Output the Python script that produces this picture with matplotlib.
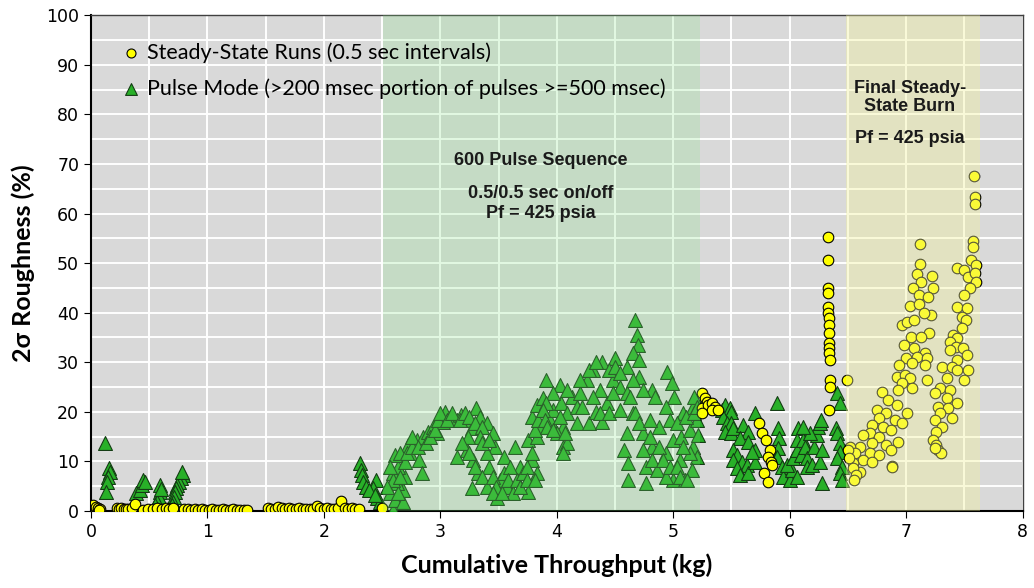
import matplotlib.pyplot as plt
import matplotlib.ticker as ticker

# steady-state runs (yellow circles)
ss_x = [0.00, 0.02, 0.04, 0.06, 0.08, 0.07, 0.22, 0.24, 0.26, 0.28, 0.30, 0.32, 0.35, 0.38, 0.45, 0.49,
        0.53, 0.57, 0.61, 0.64, 0.67, 0.70,
        0.80, 0.83, 0.86, 0.89, 0.92, 0.95, 0.98, 1.01, 1.04, 1.07, 1.10, 1.13, 1.16, 1.19, 1.22, 1.25, 1.28,
        1.31, 1.34,
        1.52, 1.55, 1.58, 1.61, 1.64, 1.67, 1.70, 1.73, 1.76, 1.79, 1.82, 1.85, 1.88, 1.91, 1.94, 1.97, 2.00,
        2.03, 2.06, 2.09, 2.12, 2.15, 2.18, 2.21, 2.24, 2.27, 2.30, 2.50,
        5.25, 5.27, 5.29, 5.25, 5.30, 5.33, 5.36, 5.33, 5.25, 5.38,
        5.74, 5.76, 5.80, 5.83, 5.81, 5.84, 5.85, 5.78, 5.81,
        6.33, 6.33, 6.33, 6.33, 6.33, 6.33, 6.34, 6.34, 6.34, 6.34, 6.34, 6.34, 6.35, 6.35, 6.35, 6.34, 6.49,
        7.58, 7.59, 7.59, 7.57, 7.57, 7.12, 7.12, 7.09, 7.22, 7.13, 7.06, 7.23, 7.11, 7.19, 7.03, 7.11, 7.21,
        7.15, 6.96, 7.01, 7.07, 7.20, 7.04, 7.13, 6.98, 7.07, 7.16, 7.00, 7.09, 7.18, 6.94, 7.05, 7.16, 6.92,
        6.99, 7.03, 7.18, 6.96, 7.05, 6.79, 6.93, 6.84, 6.92, 7.01, 6.75, 6.83, 6.77, 6.90, 6.96, 6.71, 6.80,
        6.87, 6.69, 6.77, 6.93, 6.63, 6.71, 6.83, 6.87, 6.60, 6.69, 6.77, 6.52, 6.56, 6.63, 6.71, 6.88, 6.54,
        6.60, 6.50, 6.51, 6.54, 6.57, 6.55, 6.88,
        7.44, 7.50, 7.56, 7.60, 7.53, 7.59, 7.60, 7.55, 7.50, 7.44, 7.52, 7.48, 7.51, 7.48, 7.40, 7.44, 7.38,
        7.43, 7.49, 7.38, 7.52, 7.44, 7.31, 7.39, 7.44, 7.53, 7.35, 7.50, 7.29, 7.38, 7.25, 7.35, 7.44, 7.27,
        7.36, 7.29, 7.25, 7.39, 7.31, 7.26, 7.23, 7.26, 7.27, 7.30, 7.25]
ss_y = [1.0, 1.2, 0.9, 0.6, 0.3, 0.2, 0.6, 0.4, 0.5, 0.3, 0.4, 0.3, 0.7, 1.5, 0.2, 0.4,
        0.3, 0.5, 0.4, 0.6, 0.3, 0.5,
        0.4, 0.3, 0.2, 0.3, 0.2, 0.3, 0.2, 0.2, 0.3, 0.2, 0.2, 0.3, 0.2, 0.2, 0.3, 0.2, 0.2,
        0.2, 0.2,
        0.5, 0.4, 0.3, 0.9, 0.6, 0.4, 0.5, 0.3, 0.4, 0.5, 0.3, 0.4, 0.3, 0.4, 1.0, 0.6, 0.3,
        0.5, 0.4, 0.3, 0.5, 2.0, 0.6, 0.4, 0.5, 0.3, 0.4, 0.5,
        23.8, 22.8, 22.0, 20.8, 21.4, 21.8, 21.0, 20.4, 19.8, 20.4,
        17.7, 15.7, 14.3, 12.3, 10.9, 9.9, 9.3, 7.7, 5.8,
        55.2, 50.6, 45.0, 44.0, 41.2, 39.9, 38.9, 37.5, 35.9, 33.9, 32.9, 31.8, 30.4, 26.4, 25.0, 20.4, 26.4,
        67.5, 63.3, 61.9, 54.4, 53.2, 53.8, 49.8, 47.8, 47.4, 46.2, 45.0, 45.0, 43.5, 43.1, 41.3, 41.7, 39.5,
        39.9, 37.5, 38.1, 38.5, 35.9, 35.1, 35.1, 33.5, 32.9, 31.8, 30.8, 31.0, 30.8, 29.4, 29.8, 29.4, 27.0,
        27.4, 26.8, 26.4, 25.8, 24.8, 24.0, 24.4, 22.4, 21.4, 19.8, 20.4, 19.8, 18.8, 18.3, 17.7, 17.3, 16.9,
        16.3, 15.7, 14.9, 13.9, 15.3, 13.7, 13.3, 12.3, 12.9, 11.7, 11.3, 12.9, 11.7, 10.3, 9.9, 9.1, 9.7,
        7.9, 12.3, 10.7, 8.7, 7.3, 6.3, 8.9,
        49.0, 48.6, 50.6, 49.6, 47.2, 48.0, 46.2, 45.0, 43.5, 41.1, 40.9, 39.1, 38.5, 36.9, 35.5, 34.9, 34.1,
        33.1, 32.9, 32.5, 31.5, 30.4, 29.0, 29.0, 28.4, 28.4, 26.8, 26.4, 24.8, 24.4, 23.8, 22.8, 21.8, 21.0,
        20.8, 19.8, 18.3, 18.8, 16.9, 15.9, 14.3, 13.3, 12.3, 11.7, 12.7]

# pulse mode (green triangles)
pm_x = [0.12, 0.155, 0.16, 0.15, 0.14, 0.13,
        0.39, 0.42, 0.44, 0.45, 0.46,
        0.59, 0.59, 0.58, 0.57, 0.55, 0.60,
        0.79, 0.77, 0.76, 0.74, 0.73, 0.72, 0.71, 0.70, 0.695, 0.78,
        2.31, 2.32, 2.33, 2.34, 2.36, 2.45, 2.42, 2.39, 2.46, 2.48, 2.44,
        2.59, 2.61, 2.68, 2.68, 2.63, 2.70, 2.59, 2.64, 2.70, 2.61, 2.74, 2.82, 2.84, 2.72, 2.80, 2.85, 2.89,
        2.97, 2.94, 3.02, 3.04, 3.08, 3.14, 3.18, 3.23, 3.31, 3.34, 3.40, 3.27, 3.14, 3.23, 3.28, 3.27, 3.32,
        3.45, 3.47, 3.40, 3.42, 3.40, 3.49, 3.51, 3.55, 3.57, 3.62, 3.64, 3.68, 3.75, 3.79, 3.83, 3.75, 3.79,
        3.83, 3.88, 3.91, 3.85, 3.94, 3.97, 4.03, 4.04, 4.09, 4.05, 4.09, 4.17, 4.13, 4.20, 4.26, 4.31, 4.39,
        4.28, 4.39, 4.34, 4.43, 4.50, 4.48, 4.54, 4.60, 4.67, 4.69, 4.70, 4.65, 4.71, 4.60, 4.65, 4.60, 4.58,
        4.61, 4.61, 4.77, 4.74, 4.82, 4.84, 4.77, 4.82, 4.88, 4.95, 4.99, 5.01, 4.94, 4.97, 5.00, 4.94, 5.00,
        5.06, 5.10, 5.08, 5.07, 5.14, 5.17, 5.18, 5.20, 5.17, 5.20, 5.16, 5.21, 4.88, 4.86, 4.94,
        4.20, 4.28, 4.34, 4.37, 4.45, 4.50, 4.54, 4.48, 4.09, 3.97, 3.91, 4.17, 4.22, 4.31, 4.05, 4.00, 3.83,
        4.37, 4.45, 4.54, 4.71, 4.74, 4.65, 4.63, 4.67, 4.71, 4.80, 4.80, 4.74, 4.82, 4.91, 4.97, 5.03, 5.06,
        5.12, 5.14, 5.08, 5.03, 5.11, 5.18, 5.20,
        2.65, 2.71, 2.76, 2.76, 2.81, 2.88, 2.91, 2.95, 2.98, 3.00, 3.06, 3.10, 3.17, 3.21, 3.25, 3.30, 3.36,
        3.34, 3.36, 3.42, 3.24, 3.19, 3.25, 3.30, 3.36, 3.45, 3.48, 3.45, 3.53, 3.55, 3.60, 3.58, 3.66, 3.68,
        3.71, 3.74, 3.74, 3.81, 3.79, 3.81, 3.84, 3.88, 3.90, 3.92, 3.97, 4.03, 4.07, 4.05, 2.57, 2.64, 2.59,
        2.65, 2.57, 2.54,
        5.37, 5.42, 5.44, 5.49, 5.50, 5.43, 5.46, 5.50, 5.44, 5.50, 5.51, 5.70, 5.60, 5.64, 5.57, 5.64, 5.70,
        5.51, 5.55, 5.51, 5.59, 5.63, 5.55, 5.57, 5.64, 5.70, 5.68, 5.89, 5.90, 5.91, 5.90, 5.89, 5.93, 5.94,
        6.00, 6.02, 6.06, 5.98, 6.03, 6.06, 6.07, 6.06, 6.11, 6.10, 6.13, 6.15, 6.15, 6.19, 6.21, 6.23, 6.24,
        6.26, 6.27, 6.26, 6.28, 6.28, 6.41, 6.43, 6.40, 6.41, 6.43, 6.43, 6.41, 6.45, 6.43, 6.45, 6.17, 6.11]
pm_y = [13.7, 8.7, 7.9, 6.9, 5.8, 3.8,
        3.6, 4.2, 5.2, 6.2, 5.8,
        5.2, 3.8, 2.8, 1.8, 1.2, 4.5,
        7.3, 6.7, 5.8, 5.2, 4.6, 3.8, 2.8, 1.8, 1.2, 7.8,
        9.7, 8.3, 7.3, 5.8, 4.8, 6.2, 4.6, 4.2, 2.6, 1.8, 3.2,
        0.2, 2.2, 1.8, 4.2, 5.6, 6.9, 7.7, 8.9, 9.9, 11.3, 11.7, 10.3, 7.7, 13.3, 14.3, 14.9, 15.9,
        15.7, 16.9, 17.9, 20.0, 19.0, 18.3, 19.4, 18.3, 20.8, 19.0, 17.7, 16.7, 10.9, 12.3, 10.3, 4.6, 7.7,
        15.7, 12.9, 11.7, 8.9, 4.8, 2.6, 6.2, 10.9, 4.8, 3.6, 12.9, 8.9, 3.8, 10.3, 7.7, 14.3, 19.0,
        21.4, 22.8, 26.4, 16.9, 18.3, 20.4, 25.4, 21.8, 19.8, 12.9, 13.7, 17.7, 23.0, 23.8, 26.4, 28.4, 30.0,
        17.7, 17.9, 20.0, 21.8, 30.8, 26.4, 25.0, 29.0, 38.5, 35.5, 33.5, 31.8, 27.0, 23.8, 19.8, 15.7, 12.3,
        9.7, 6.2, 5.6, 15.7, 24.4, 23.0, 8.9, 12.9, 16.9, 28.0, 25.8, 23.0, 21.0, 18.3, 14.3, 11.7, 6.2,
        10.3, 6.2, 19.8, 14.9, 16.3, 21.0, 23.0, 18.3, 12.9, 10.9, 8.3, 15.3, 12.9, 8.3, 6.9,
        26.4, 28.4, 30.0, 24.4, 28.4, 29.0, 27.8, 23.8, 24.4, 23.8, 21.8, 21.0, 21.0, 23.0, 16.9, 15.7, 14.9,
        19.8, 19.8, 20.4, 30.4, 24.4, 26.4, 23.0, 19.8, 17.7, 18.3, 14.9, 12.3, 10.3, 10.3, 8.9, 8.9, 6.9,
        6.2, 11.7, 12.9, 17.7, 19.0, 19.8, 21.0,
        11.7, 11.7, 12.9, 14.9, 12.9, 13.7, 14.9, 16.3, 18.3, 19.8, 18.3, 19.8, 18.3, 19.8, 19.0, 17.7, 16.9,
        14.9, 13.7, 14.3, 14.9, 13.7, 11.7, 8.9, 6.9, 6.9, 4.8, 3.6, 3.6, 7.7, 8.9, 6.2, 6.2, 4.8,
        7.7, 8.9, 6.2, 6.2, 11.7, 16.3, 18.3, 20.4, 18.3, 16.9, 16.3, 19.0, 15.7, 11.7, 3.6, 3.6, 6.2,
        6.9, 8.9, 4.8,
        21.0, 20.4, 21.4, 20.8, 20.0, 19.0, 17.7, 17.7, 15.9, 15.7, 16.7, 19.8, 17.3, 15.9, 14.7, 13.9, 12.3,
        12.3, 11.3, 10.3, 9.9, 9.3, 8.7, 7.3, 7.7, 9.9, 11.9, 21.8, 16.7, 14.7, 12.7, 10.9, 8.9, 6.9,
        6.2, 8.3, 6.9, 9.3, 10.7, 12.3, 16.7, 14.3, 14.3, 11.3, 12.9, 10.7, 8.9, 9.3, 12.9, 15.3, 16.9,
        17.7, 18.3, 9.9, 12.3, 5.6, 23.8, 21.8, 16.7, 15.7, 13.7, 11.9, 10.7, 8.9, 7.7, 6.2, 15.7, 16.9]

y_ticks = [0, 10, 20, 30, 40, 50, 60, 70, 80, 90, 100]
x_ticks = [0, 1, 2, 3, 4, 5, 6, 7, 8]

fig = plt.figure(figsize=(10.34, 5.88), dpi=100)
ax = fig.add_axes([0.088, 0.131, 0.901, 0.843])
ax.set_facecolor('#d9d9d9')

ax.scatter(pm_x, pm_y, marker='^', s=100, facecolor='#28b028', edgecolor='#143d14', linewidth=0.8,
           zorder=3, label='Pulse Mode (>200 msec portion of pulses >=500 msec)')
ax.scatter(ss_x, ss_y, marker='o', s=58, facecolor='#ffff00', edgecolor='black', linewidth=0.8,
           zorder=4, label='Steady-State Runs (0.5 sec intervals)')

# shaded test phases sit on top of the markers
ax.axvspan(2.51, 5.23, color=(0.5, 0.9, 0.5), alpha=0.22, lw=0, zorder=5)
ax.axvspan(6.48, 7.63, color=(0.95, 0.95, 0.6), alpha=0.36, lw=0, zorder=5)

ax.set_xlim(0, 8)
ax.set_ylim(0, 100)
ax.set_xticks(x_ticks)
ax.set_yticks(y_ticks)
ax.xaxis.set_minor_locator(ticker.MultipleLocator(0.5))
ax.yaxis.set_minor_locator(ticker.MultipleLocator(5))
ax.grid(True, which='both', color='white', lw=1.4)
ax.set_axisbelow(True)
ax.tick_params(which='minor', length=0)
ax.tick_params(which='major', length=5, labelsize=12.5, colors='black')

for side in ['top', 'right']:
    ax.spines[side].set_color('#404040')
    ax.spines[side].set_linewidth(1.0)
for side in ['left', 'bottom']:
    ax.spines[side].set_linewidth(1.5)

lab_font = ['Lato', 'DejaVu Sans']
ax.set_xlabel('Cumulative Throughput (kg)', fontsize=18, fontweight='bold', family=lab_font, labelpad=9)
ax.set_ylabel('2σ Roughness (%)', fontsize=18, fontweight='bold', family=lab_font, labelpad=8)

handles, labels = ax.get_legend_handles_labels()
leg = ax.legend(handles[::-1], labels[::-1], loc='upper left', bbox_to_anchor=(0.012, 0.985), frameon=False,
                prop={'family': lab_font, 'size': 15.5}, handletextpad=0.3, handlelength=0.9,
                labelspacing=0.72, scatterpoints=1, markerscale=0.85)
leg.set_zorder(6)

ann = dict(ha='center', va='center', fontsize=13, fontweight='bold', family='Liberation Sans',
           color='#1a1a1a', zorder=6)
ax.text(3.86, 70.8, '600 Pulse Sequence', **ann)
ax.text(3.86, 64.1, '0.5/0.5 sec on/off', **ann)
ax.text(3.86, 60.1, 'Pf = 425 psia', **ann)
ax.text(7.03, 85.3, 'Final Steady-', **ann)
ax.text(7.03, 81.5, 'State Burn', **ann)
ax.text(7.03, 75.2, 'Pf = 425 psia', **ann)

plt.savefig('out.png', dpi=100)
